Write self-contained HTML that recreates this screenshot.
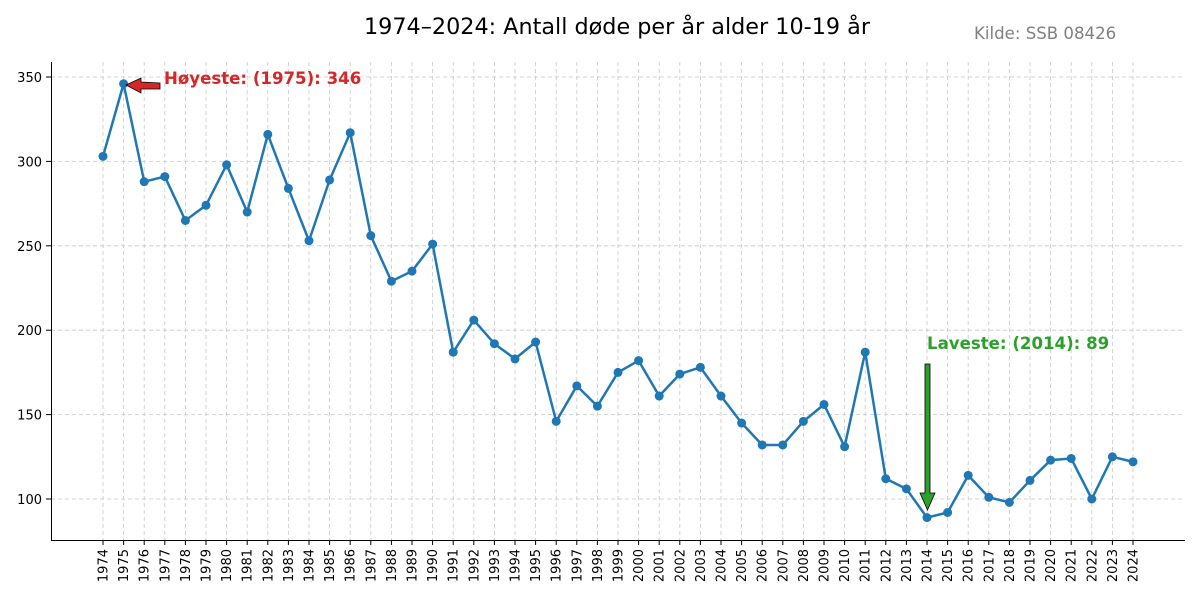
<!DOCTYPE html>
<html><head><meta charset="utf-8"><style>
body{margin:0;background:#fff}
svg{display:block;font-family:"DejaVu Sans","Liberation Sans",sans-serif}
</style></head><body>
<svg id="c" width="1200" height="600" viewBox="0 0 1200 600">
<text x="617" y="34" font-size="22.3" text-anchor="middle" fill="#000">1974–2024: Antall døde per år alder 10-19 år</text>
<text x="974" y="39" font-size="16.6" fill="#808080">Kilde: SSB 08426</text>
<g id="grid"></g>
<line x1="51.5" y1="62" x2="51.5" y2="540.5" stroke="#000" stroke-width="1"/>
<line x1="51" y1="540.5" x2="1185" y2="540.5" stroke="#000" stroke-width="1"/>
<g id="ticks"></g>
<polyline id="line" fill="none" stroke="#1f77b4" stroke-width="2.5" stroke-linejoin="round"/>
<g id="pts" fill="#1f77b4"></g>
<polygon points="160,83 141,82 141,78 126,85 141,93 141,89 160,89" fill="#d62728" stroke="#000" stroke-width="0.8"/>
<text x="164" y="84" font-size="16.6" font-weight="bold" fill="#d62728">Høyeste: (1975): 346</text>
<polygon points="925,364 930,364 930,493 935,493 927.5,510 920,493 925,493" fill="#2ca02c" stroke="#000" stroke-width="0.8"/>
<text x="927" y="349" font-size="16.6" font-weight="bold" fill="#2ca02c">Laveste: (2014): 89</text>
</svg>
<script>
var d=[303,346,288,291,265,274,298,270,316,284,253,289,317,256,229,235,251,187,206,192,183,193,146,167,155,175,182,161,174,178,161,145,132,132,146,156,131,187,112,106,89,92,114,101,98,111,123,124,100,125,122];
function X(i){return 103+i*20.6}function Y(v){return 499-(v-100)*1.688}
var ns="http://www.w3.org/2000/svg",g=document.getElementById('grid'),t=document.getElementById('ticks'),p=document.getElementById('pts');
function el(par,n,a,txt){var e=document.createElementNS(ns,n);for(var k in a)e.setAttribute(k,a[k]);if(txt)e.textContent=txt;par.appendChild(e);return e}
for(var i=0;i<51;i++){var x=X(i);
el(g,'line',{x1:x,y1:62,x2:x,y2:540,stroke:'#c8c8c8','stroke-dasharray':'4,3','stroke-width':0.8});
el(t,'line',{x1:x,y1:540,x2:x,y2:545,stroke:'#000'});
el(t,'text',{x:0,y:0,'font-size':13,'text-anchor':'end',transform:'translate('+(x+4.5)+',549) rotate(-90)'},String(1974+i));}
[100,150,200,250,300,350].forEach(function(v){var y=Y(v);
el(g,'line',{x1:51,y1:y,x2:1185,y2:y,stroke:'#c8c8c8','stroke-dasharray':'4,3','stroke-width':0.8});
el(t,'line',{x1:46,y1:y,x2:51,y2:y,stroke:'#000'});
el(t,'text',{x:42,y:y+5,'font-size':13,'text-anchor':'end'},String(v));});
var pts=d.map(function(v,i){return X(i)+','+Y(v)}).join(' ');
document.getElementById('line').setAttribute('points',pts);
d.forEach(function(v,i){el(p,'circle',{cx:X(i),cy:Y(v),r:4.5})});
</script>
</body></html>
